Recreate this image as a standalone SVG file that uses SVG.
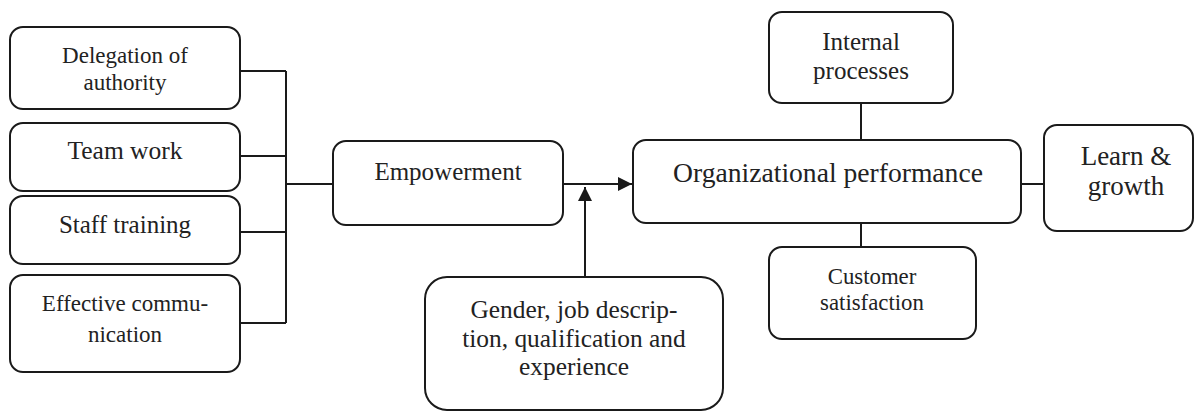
<svg xmlns="http://www.w3.org/2000/svg" width="1197" height="412" viewBox="0 0 1197 412">
<defs>
<style>
.box{fill:#fff;stroke:#1a1a1a;stroke-width:2}
.ln{fill:none;stroke:#1a1a1a;stroke-width:2}
text{font-family:"Liberation Serif","Times New Roman",serif;fill:#222;text-anchor:middle}
</style>
<marker id="arr" viewBox="0 0 14 14" refX="14" refY="7" markerWidth="14" markerHeight="14" markerUnits="userSpaceOnUse" orient="auto">
<path d="M0,0 L14,7 L0,14 Z" fill="#1a1a1a"/>
</marker>
</defs>
<g id="connectors">
<path class="ln" d="M240,71 H286 M240,156 H286 M240,232 H286 M240,323 H286 M286,71 V323 M286,184 H333"/>
<path class="ln" d="M563,184 H632" marker-end="url(#arr)"/>
<path class="ln" d="M585,277 V187" marker-end="url(#arr)"/>
<path class="ln" d="M861,103 V140 M861,223 V247 M1021,184 H1044"/>
</g>
<g id="delegation"><rect class="box" x="10" y="27" width="230" height="82" rx="13"/>
<text font-size="23"><tspan x="125" y="63">Delegation of</tspan><tspan x="125" y="90">authority</tspan></text></g>
<g id="teamwork"><rect class="box" x="10" y="123" width="230" height="68" rx="13"/>
<text x="125" y="159" font-size="25.5">Team work</text></g>
<g id="stafftraining"><rect class="box" x="10" y="196" width="230" height="68" rx="13"/>
<text x="125" y="233" font-size="25">Staff training</text></g>
<g id="communication"><rect class="box" x="10" y="275" width="230" height="97" rx="13"/>
<text font-size="23"><tspan x="125" y="311">Effective commu-</tspan><tspan x="125" y="342">nication</tspan></text></g>
<g id="empowerment"><rect class="box" x="333" y="141" width="230" height="84" rx="13"/>
<text x="448" y="180" font-size="25">Empowerment</text></g>
<g id="gender"><rect class="box" x="425" y="277" width="298" height="133" rx="22"/>
<text font-size="25.4"><tspan x="574" y="318">Gender, job descrip-</tspan><tspan x="574" y="347">tion, qualification and</tspan><tspan x="574" y="375">experience</tspan></text></g>
<g id="orgperformance"><rect class="box" x="633" y="140" width="388" height="83" rx="13"/>
<text x="828" y="182" font-size="27.6">Organizational performance</text></g>
<g id="internal"><rect class="box" x="769" y="12" width="184" height="91" rx="13"/>
<text font-size="25"><tspan x="861" y="50">Internal</tspan><tspan x="861" y="79">processes</tspan></text></g>
<g id="customer"><rect class="box" x="769" y="247" width="207" height="92" rx="13"/>
<text font-size="22.8"><tspan x="872" y="284">Customer</tspan><tspan x="872" y="310">satisfaction</tspan></text></g>
<g id="learn"><rect class="box" x="1044" y="125" width="149" height="106" rx="13"/>
<text font-size="27"><tspan x="1126" y="165">Learn &amp;</tspan><tspan x="1126" y="195">growth</tspan></text></g>
</svg>
